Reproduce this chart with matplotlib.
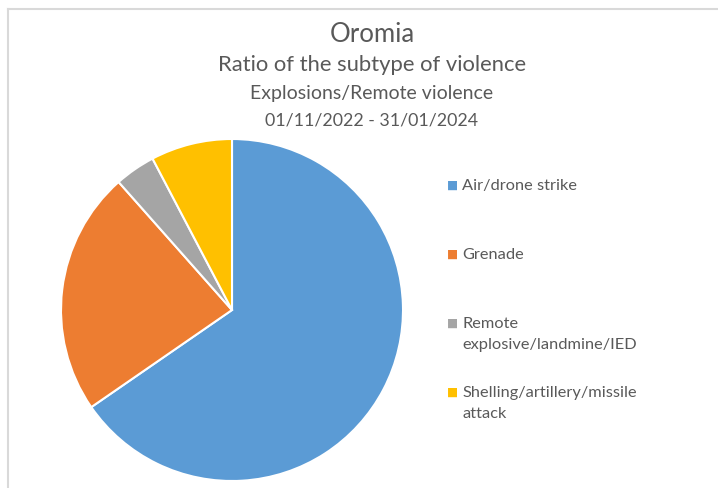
import matplotlib.pyplot as plt
from matplotlib.lines import Line2D

categorias = ["Air/drone strike", "Grenade", "Remote\nexplosive/landmine/IED",
              "Shelling/artillery/missile\nattack"]
eventos = [17, 6, 1, 2]
colores = ["#5B9BD5", "#ED7D31", "#A5A5A5", "#FFC000"]

titulo = ["Oromia", "Ratio of the subtype of violence",
          "Explosions/Remote violence", "01/11/2022 - 31/01/2024"]

W, H = 718, 488
fig = plt.figure(figsize=(W / 100, H / 100), dpi=100)
gris = "#595959"
fuente = "Lato"

# marco del area del grafico (solo se ven el borde superior e izquierdo)
fig.add_artist(Line2D([8 / W, 8 / W], [0, 1 - 9 / H], color="#D9D9D9", lw=1.5))
fig.add_artist(Line2D([8 / W, 1], [1 - 9 / H, 1 - 9 / H], color="#D9D9D9", lw=1.5))

# titulo
tam = [18.5, 15.8, 14, 12.8]
ys = [35, 65, 94, 120]
for t, s, y in zip(titulo, tam, ys):
    fig.text(372 / W, 1 - y / H, t, ha="center", va="center", fontsize=s,
             color=gris, family=fuente)

# pastel
cx, cy, r = 232, 310, 171
ax = fig.add_axes([(cx - r) / W, (H - cy - r) / H, 2 * r / W, 2 * r / H])
ax.pie(eventos, colors=colores, startangle=90, counterclock=False,
       wedgeprops=dict(edgecolor="white", linewidth=1.5))
ax.set_xlim(-1, 1)
ax.set_ylim(-1, 1)
ax.set_aspect("equal")
ax.axis("off")

# leyenda
for i, (cat, col) in enumerate(zip(categorias, colores)):
    y = 185 + 69 * i
    fig.text(447 / W, 1 - (y + 4) / H, "■", color=col, fontsize=8.5, va="baseline",
             ha="left", family="DejaVu Sans")
    fig.text(462 / W, 1 - (y - 6) / H, cat, color=gris, fontsize=11.8,
             va="top", ha="left", family=fuente, linespacing=1.6)

fig.savefig("out.png", dpi=100)
